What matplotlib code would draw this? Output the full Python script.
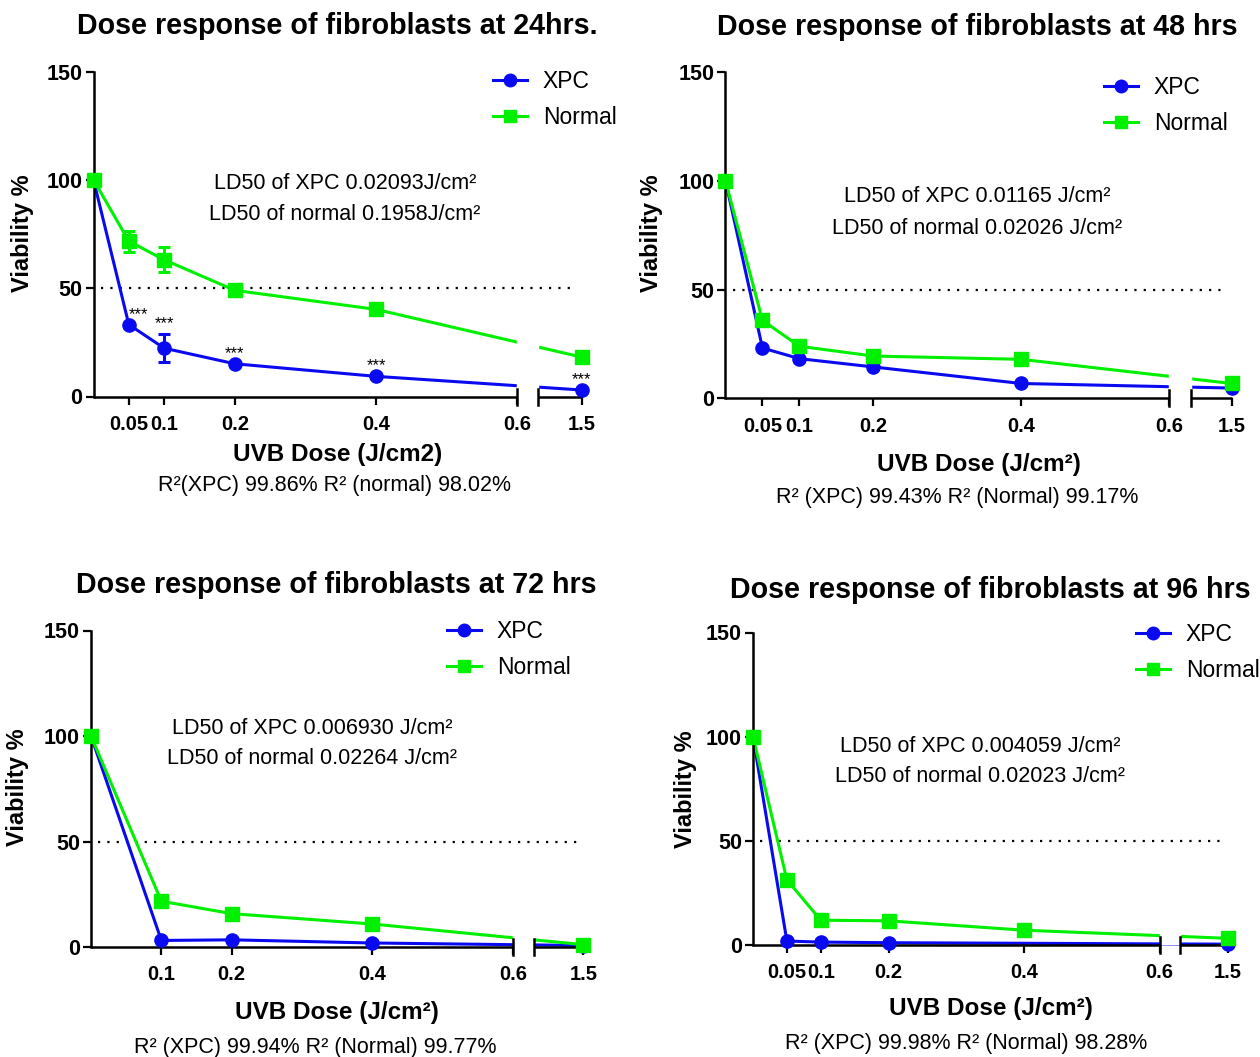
import numpy as np
import matplotlib
matplotlib.use("Agg")
from matplotlib import pyplot as plt
from matplotlib import transforms
from matplotlib.lines import Line2D

plt.rcParams['font.family'] = ['Liberation Sans', 'DejaVu Sans']

# ---- data ----
# 24 hrs
dose_24 = [0, 0.05, 0.1, 0.2, 0.4, 1.5]
xpc_24 = [100, 33.2, 22.3, 15.1, 9.3, 3.0]
xpc_24_err = [0, 0, 6.5, 0, 0, 0]
normal_24 = [100, 71.7, 63.1, 49.0, 40.2, 18.2]
normal_24_err = [0, 4.8, 5.8, 2.6, 0, 0]
stars_24 = ['', '***', '***', '***', '***', '***']

# 48 hrs
dose_48 = [0, 0.05, 0.1, 0.2, 0.4, 1.5]
xpc_48 = [100, 23.2, 18.3, 14.5, 6.9, 4.8]
normal_48 = [100, 35.9, 24.0, 19.5, 18.0, 6.9]

# 72 hrs
dose_72 = [0, 0.1, 0.2, 0.4, 1.5]
xpc_72 = [100, 3.1, 3.4, 1.9, 0.7]
normal_72 = [100, 21.7, 15.8, 10.9, 1.1]

# 96 hrs
dose_96_xpc = [0, 0.05, 0.1, 0.2, 1.5]
xpc_96 = [100, 1.9, 1.4, 1.1, 0.4]
dose_96_normal = [0, 0.05, 0.1, 0.2, 0.4, 1.5]
normal_96 = [100, 31.3, 11.9, 11.6, 7.1, 3.2]

ticks_full = [0.05, 0.1, 0.2, 0.4, 0.6, 1.5]
labels_full = ['0.05', '0.1', '0.2', '0.4', '0.6', '1.5']
ticks_72 = [0.1, 0.2, 0.4, 0.6, 1.5]
labels_72 = ['0.1', '0.2', '0.4', '0.6', '1.5']

titles = ['Dose response of fibroblasts at 24hrs.',
          'Dose response of fibroblasts at 48 hrs',
          'Dose response of fibroblasts at 72 hrs',
          'Dose response of fibroblasts at 96 hrs']
ld50_texts = [['LD50 of XPC 0.02093J/cm²', 'LD50 of normal 0.1958J/cm²'],
              ['LD50 of XPC 0.01165 J/cm²', 'LD50 of normal 0.02026 J/cm²'],
              ['LD50 of XPC 0.006930 J/cm²', 'LD50 of normal 0.02264 J/cm²'],
              ['LD50 of XPC 0.004059 J/cm²', 'LD50 of normal 0.02023 J/cm²']]
xlabels = ['UVB Dose (J/cm2)', 'UVB Dose (J/cm²)', 'UVB Dose (J/cm²)', 'UVB Dose (J/cm²)']
r2_texts = ['R²(XPC) 99.86% R² (normal) 98.02%',
            'R² (XPC) 99.43% R² (Normal) 99.17%',
            'R² (XPC) 99.94% R² (Normal) 99.77%',
            'R² (XPC) 99.98% R² (Normal) 98.28%']

BLUE = '#0a0af0'
GREEN = '#00f000'

W, H = 1260, 1057
fig = plt.figure(figsize=(W / 100, H / 100), dpi=100)


def fx(x):
    return x / W


def fy(y):
    return 1 - y / H


def draw_panel(box, c, xpc, normal, ticks, tick_labels, k, stars=None):
    # box in pixels: left, top, right, bottom
    l, t, r, b = box
    ax = fig.add_axes([fx(l), fy(b), (r - l) / W, (b - t) / H])

    # linear up to 0.6, squeezed after the axis break
    fwd = lambda x: np.where(x <= 0.6, x, 0.6 + (x - 0.6) * c)
    inv = lambda y: np.where(y <= 0.6, y, 0.6 + (y - 0.6) / c)
    ax.set_xscale('function', functions=(fwd, inv))
    ax.set_xlim(0, 1.5)
    ax.set_ylim(0, 150)
    gap_end = 0.6 + 0.03 / c

    for (d, v, err), col, mk, ms in [(xpc, BLUE, 'o', 9.5), (normal, GREEN, 's', 10)]:
        ax.plot(d, v, color=col, lw=2.2, zorder=2, clip_on=False)
        ax.plot(d, v, ls='none', marker=mk, ms=ms, color=col, zorder=4, clip_on=False)
        if err is not None:
            ax.errorbar(d, v, yerr=err, fmt='none', ecolor=col, elinewidth=2.2,
                        capsize=4.5, capthick=2.2, zorder=3, clip_on=False)

    if stars is not None:
        d, v, err = xpc
        for i, s in enumerate(stars):
            if s:
                dx = 7 if i == 1 else 0
                ax.annotate(s, (d[i], v[i] + err[i]), xytext=(dx, 2), textcoords='offset points',
                            ha='center', va='bottom', fontsize=12, zorder=5)

    ax.axhline(50, xmin=0.015, xmax=0.99, color='black', lw=1.6, ls=(0, (1, 3.2)), zorder=1)

    # broken x axis
    ax.spines['top'].set_visible(False)
    ax.spines['right'].set_visible(False)
    ax.spines['bottom'].set_visible(False)
    ax.spines['left'].set_linewidth(1.8)
    trans = transforms.blended_transform_factory(ax.transData, ax.transAxes)
    cap = 8 / (b - t)
    ax.axvspan(0.6, gap_end, ymin=0, ymax=0.3, color='white', zorder=2.5)
    for x0, x1 in [(0, 0.6), (gap_end, 1.5)]:
        ax.plot([x0, x1], [0, 0], transform=trans, color='black', lw=1.8,
                clip_on=False, solid_capstyle='butt', zorder=3)
    for xc in [0.6, gap_end]:
        ax.plot([xc, xc], [-cap, cap], transform=trans, color='black', lw=1.8,
                clip_on=False, zorder=3)

    ax.set_xticks(ticks)
    ax.set_xticklabels(tick_labels)
    ax.set_yticks([0, 50, 100, 150])
    ax.tick_params(direction='out', length=6, width=1.6, labelsize=15.5)
    ax.tick_params(axis='x', pad=7, labelsize=14.5)
    ax.tick_params(axis='y', pad=2)
    for lab in ax.get_xticklabels() + ax.get_yticklabels():
        lab.set_fontweight('bold')
    ax.minorticks_off()

    handles = [Line2D([], [], color=BLUE, lw=2.2, marker='o', ms=9),
               Line2D([], [], color=GREEN, lw=2.2, marker='s', ms=9)]
    lx, ly = legend_pos[k]
    fig.legend(handles, ['XPC', 'Normal'], loc='upper left', bbox_to_anchor=(fx(lx), fy(ly)),
               frameon=False, fontsize=16.5, handlelength=1.48, handletextpad=0.7,
               labelspacing=0.58, borderpad=0, borderaxespad=0)

    tx, ty = title_pos[k]
    fig.text(fx(tx), fy(ty), titles[k], ha='center', va='center', fontsize=20.6, fontweight='bold')
    lx1, ly1, ly2 = ld50_pos[k]
    fig.text(fx(lx1), fy(ly1), ld50_texts[k][0], ha='center', va='center', fontsize=15.5)
    fig.text(fx(lx1), fy(ly2), ld50_texts[k][1], ha='center', va='center', fontsize=15.5)
    xx, xy, rx, ry = xlab_pos[k]
    fig.text(fx(xx), fy(xy), xlabels[k], ha='center', va='center', fontsize=17.5, fontweight='bold')
    fig.text(fx(rx), fy(ry), r2_texts[k], ha='center', va='center', fontsize=15.5)
    vx, vy = ylab_pos[k]
    fig.text(fx(vx), fy(vy), 'Viability %', ha='center', va='center', rotation=90,
             fontsize=17, fontweight='bold')
    return ax


title_pos = [(337, 26), (977, 27), (336, 585), (990, 590)]
ld50_pos = [(345, 184, 214), (977, 196, 228), (312, 728, 758), (980, 746, 776)]
xlab_pos = [(338, 455, 335, 485), (979, 465, 957, 497), (337, 1013, 315, 1048), (991, 1009, 966, 1044)]
ylab_pos = [(22, 233), (651, 233), (18, 787), (686, 789)]
legend_pos = [(493, 70), (1104, 76), (447, 620), (1136, 623)]

draw_panel((93.5, 71.5, 581.5, 396.5), 0.101,
           (dose_24, xpc_24, xpc_24_err), (dose_24, normal_24, normal_24_err),
           ticks_full, labels_full, 0, stars=stars_24)
draw_panel((725.5, 72, 1231.5, 398.5), 0.094,
           (dose_48, xpc_48, None), (dose_48, normal_48, None),
           ticks_full, labels_full, 1)
draw_panel((91, 630.5, 583.5, 947), 0.111,
           (dose_72, xpc_72, None), (dose_72, normal_72, None),
           ticks_72, labels_72, 2)
draw_panel((753, 632.5, 1228, 945), 0.112,
           (dose_96_xpc, xpc_96, None), (dose_96_normal, normal_96, None),
           ticks_full, labels_full, 3)

fig.savefig('out.png', dpi=100)
